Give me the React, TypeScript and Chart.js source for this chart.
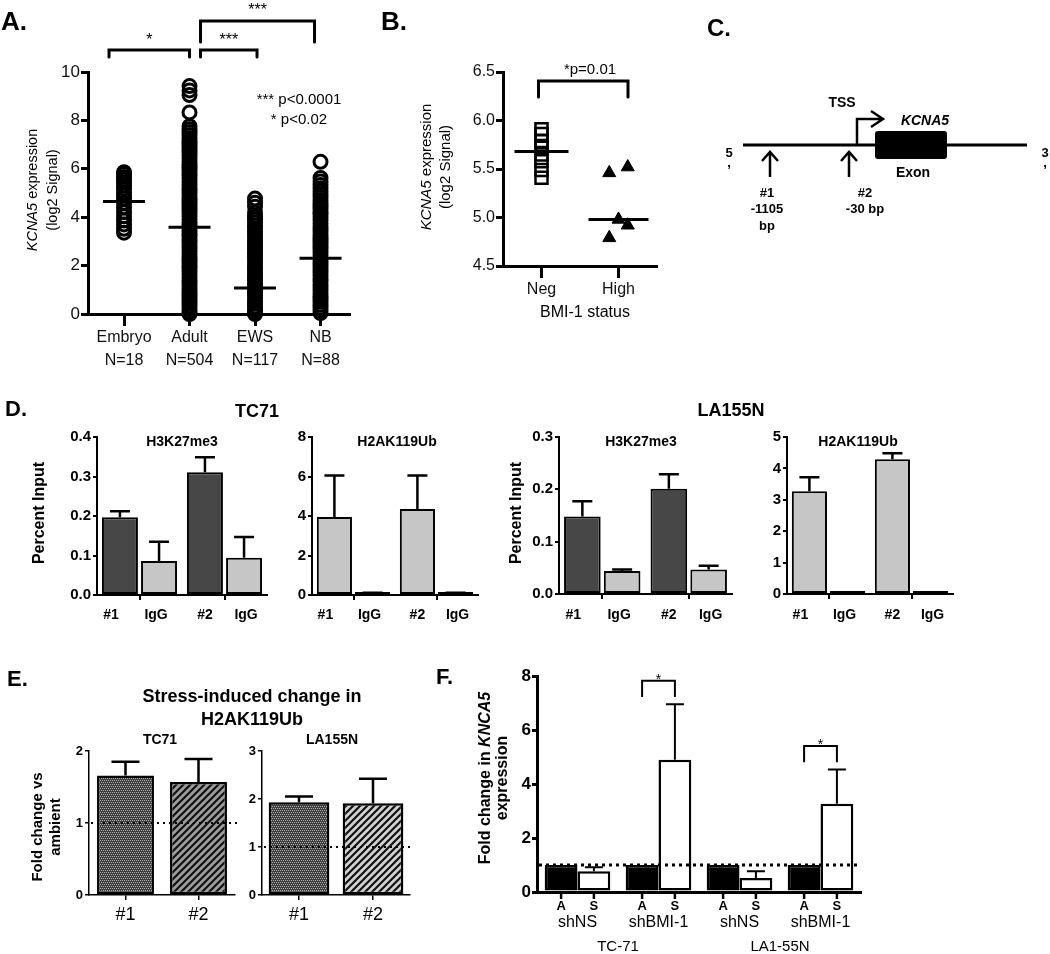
import React, { useEffect, useRef } from 'react';
import { Chart, registerables } from 'chart.js';

Chart.register(...registerables);

const FAMILY = 'Arial, "Liberation Sans", Helvetica, sans-serif';
Chart.defaults.font.family = FAMILY;
Chart.defaults.color = '#000';

// ================= DATA =================
// Panel A
const A_CATEGORIES = ['Embryo', 'Adult', 'EWS', 'NB'];
const A_COUNTS = ['N=18', 'N=504', 'N=117', 'N=88'];
const A_Y_TICKS = [0, 2, 4, 6, 8, 10];
const A_EMBRYO = [5.86, 5.78, 5.66, 5.55, 5.44, 5.31, 5.18, 5.02, 4.9, 4.77, 4.6, 4.41, 4.22, 4.04, 3.86, 3.7, 3.52, 3.36];
const A_ADULT = [9.42, 9.24, 9.05, 8.33, 7.76, 7.63, 7.52, 7.4, 7.27, 7.15, 7.04, 6.92, 6.79, 6.67, 6.56, 6.44, 6.31, 6.19, 6.08, 5.96, 5.83, 5.71, 5.6, 5.48, 5.35, 5.23, 5.12, 5.0, 4.87, 4.75, 4.64, 4.52, 4.39, 4.27, 4.16, 4.04, 3.91, 3.79, 3.68, 3.56, 3.43, 3.31, 3.2, 3.08, 2.95, 2.83, 2.72, 2.6, 2.47, 2.35, 2.24, 2.12, 1.99, 1.87, 1.76, 1.64, 1.51, 1.39, 1.28, 1.16, 1.03, 0.91, 0.8, 0.68, 0.55, 0.43, 0.32, 0.2, 0.08, 0.0];
const A_EWS = [4.77, 4.6, 4.43, 4.18, 4.02, 3.9, 3.78, 3.66, 3.53, 3.41, 3.3, 3.18, 3.05, 2.93, 2.82, 2.7, 2.57, 2.45, 2.34, 2.22, 2.09, 1.97, 1.86, 1.74, 1.61, 1.49, 1.38, 1.26, 1.13, 1.01, 0.9, 0.78, 0.65, 0.53, 0.42, 0.3, 0.17, 0.05, 0.0];
const A_NB = [6.29, 5.62, 5.48, 5.33, 5.2, 5.07, 4.95, 4.83, 4.7, 4.58, 4.47, 4.35, 4.22, 4.1, 3.99, 3.87, 3.74, 3.62, 3.51, 3.39, 3.26, 3.14, 3.03, 2.91, 2.78, 2.66, 2.55, 2.43, 2.3, 2.18, 2.07, 1.95, 1.82, 1.7, 1.59, 1.47, 1.34, 1.22, 1.11, 0.99, 0.86, 0.74, 0.63, 0.51, 0.38, 0.26, 0.15, 0.04];
const A_MEANS = [4.65, 3.58, 1.07, 2.3];
const A_SIG_PAIRS = [[0, 1], [1, 2], [1, 3]];
const A_SIG_MARKS = ['*', '***', '***'];
const A_NOTES = ['*** p<0.0001', '* p<0.02'];

// Panel B
const B_CATEGORIES = ['Neg', 'High'];
const B_Y_TICKS = [4.5, 5, 5.5, 6, 6.5];
const B_NEG = [5.91, 5.86, 5.79, 5.72, 5.65, 5.58, 5.49, 5.41];
const B_HIGH = [5.46, 5.52, 4.98, 4.92, 4.79];
const B_HIGH_JITTER = [-0.12, 0.12, 0, 0.12, -0.12];
const B_CENTRAL = [5.68, 4.98];
const B_SIG = '*p=0.01';

// Panel D
const D_SITES = ['#1', '#2'];
const D_BAR_LABELS = ['#1', 'IgG', '#2', 'IgG'];
const D_TC71_K27_TICKS = [0, 0.1, 0.2, 0.3, 0.4];
const D_TC71_K27_CHIP = [0.197, 0.311];
const D_TC71_K27_CHIP_ERR = [0.015, 0.038];
const D_TC71_K27_IGG = [0.086, 0.094];
const D_TC71_K27_IGG_ERR = [0.049, 0.053];
const D_TC71_UB_TICKS = [0, 2, 4, 6, 8];
const D_TC71_UB_CHIP = [3.95, 4.35];
const D_TC71_UB_CHIP_ERR = [2.1, 1.7];
const D_TC71_UB_IGG = [0.1, 0.1];
const D_TC71_UB_IGG_ERR = [0.02, 0.02];
const D_LA_K27_TICKS = [0, 0.1, 0.2, 0.3];
const D_LA_K27_CHIP = [0.148, 0.201];
const D_LA_K27_CHIP_ERR = [0.029, 0.028];
const D_LA_K27_IGG = [0.044, 0.047];
const D_LA_K27_IGG_ERR = [0.003, 0.007];
const D_LA_UB_TICKS = [0, 1, 2, 3, 4, 5];
const D_LA_UB_CHIP = [3.27, 4.29];
const D_LA_UB_CHIP_ERR = [0.45, 0.19];
const D_LA_UB_IGG = [0.03, 0.03];
const D_LA_UB_IGG_ERR = [0, 0];

// Panel E
const E_SITES = ['#1', '#2'];
const E_TC71_TICKS = [0, 1, 2];
const E_TC71 = [1.66, 1.57];
const E_TC71_ERR = [0.19, 0.32];
const E_LA_TICKS = [0, 1, 2, 3];
const E_LA = [1.93, 1.91];
const E_LA_ERR = [0.12, 0.51];
const E_REF = 1;

// Panel F
const F_GROUPS = ['shNS', 'shBMI-1', 'shNS', 'shBMI-1'];
const F_CELL_LINES = ['TC-71', 'LA1-55N'];
const F_CONDITIONS = ['A', 'S'];
const F_TICKS = [0, 2, 4, 6, 8];
const F_AMBIENT = [1, 1, 1, 1];
const F_STRESS = [0.77, 4.9, 0.52, 3.27];
const F_STRESS_ERR = [0.15, 2.05, 0.25, 1.27];
const F_SIGNIFICANT = [1, 3];
const F_REF = 1;

// ================= STYLE / LAYOUT =================
const DARK = '#474747';
const LIGHT = '#c6c6c6';

type Box = { x: number; y: number; w: number; h: number };
type Area = { l: number; t: number; r: number; b: number };
type Part = [string, string];
type TItem = { x: number; y: number; parts: Part[]; rot?: number; align?: 'left' | 'center' | 'right' };

const font = (size: number, style = '') => `${style} ${size}px ${FAMILY}`.trim();
const T = (x: number, y: number, s: string, fnt: string, align: 'left' | 'center' | 'right' = 'center'): TItem => ({ x, y, parts: [[s, fnt]], align });
const V = (x: number, y: number, parts: Part[]): TItem => ({ x, y, parts, rot: -Math.PI / 2, align: 'center' });

function drawItem(ctx: CanvasRenderingContext2D, it: TItem, box: Box) {
  ctx.save();
  ctx.translate(it.x - box.x, it.y - box.y);
  if (it.rot) ctx.rotate(it.rot);
  ctx.textBaseline = 'middle';
  ctx.textAlign = 'left';
  ctx.fillStyle = '#000';
  let w = 0;
  it.parts.forEach(([s, f]) => { ctx.font = f; w += ctx.measureText(s).width; });
  let x = it.align === 'left' ? 0 : it.align === 'right' ? -w : -w / 2;
  it.parts.forEach(([s, f]) => { ctx.font = f; ctx.fillText(s, x, 0); x += ctx.measureText(s).width; });
  ctx.restore();
}

const textPlugin = (items: TItem[], box: Box) => ({
  id: 'pageText',
  afterDraw(chart: any) { items.forEach((it) => drawItem(chart.ctx, it, box)); },
});

function drawStars(ctx: CanvasRenderingContext2D, s: string, x: number, yCenter: number, size: number) {
  ctx.save();
  ctx.font = font(size);
  ctx.textAlign = 'center';
  ctx.textBaseline = 'alphabetic';
  ctx.fillStyle = '#000';
  ctx.fillText(s, x, yCenter + size * 0.58);
  ctx.restore();
}

function frame(box: Box, area: Area) {
  return {
    padding: { top: area.t - box.y, right: box.x + box.w - area.r, left: 0, bottom: 0 },
    yw: area.l - box.x,
    xh: box.y + box.h - area.b,
  };
}

function baseOptions(fr: any) {
  return {
    responsive: false,
    maintainAspectRatio: false,
    animation: false,
    events: [],
    layout: { padding: fr.padding },
    plugins: { legend: { display: false }, tooltip: { enabled: false }, title: { display: false } },
  };
}

function yAxis(ticks: number[], width: number, o: any) {
  return {
    type: 'linear',
    position: 'left',
    min: ticks[0],
    max: ticks[ticks.length - 1],
    afterBuildTicks: (s: any) => { s.ticks = ticks.map((v) => ({ value: v })); },
    afterFit: (s: any) => { s.width = width; },
    ticks: {
      font: { size: o.size, weight: o.weight || 'normal' },
      color: o.color || '#000',
      padding: o.pad,
      callback: (v: any) => (o.digits !== undefined ? Number(v).toFixed(o.digits) : String(v)),
    },
    grid: { display: true, drawOnChartArea: false, drawTicks: true, tickLength: o.tl, tickWidth: o.tw, tickColor: '#000', color: '#000', lineWidth: o.tw },
    border: { display: true, color: '#000', width: o.bw },
  };
}

function xCat(height: number, o: any) {
  const ticks = o.labels
    ? { font: { size: o.labels.size, weight: o.labels.weight || 'normal' }, color: '#000', padding: o.labels.pad, autoSkip: false, maxRotation: 0 }
    : { callback: () => '', autoSkip: false, maxRotation: 0, padding: 0 };
  return {
    type: 'category',
    position: 'bottom',
    offset: true,
    afterFit: (s: any) => { s.height = height; },
    ticks,
    grid: { display: o.tl > 0, offset: false, drawOnChartArea: false, drawTicks: true, tickLength: o.tl, tickWidth: o.tw, tickColor: '#000', color: '#000', lineWidth: o.tw },
    border: { display: true, color: '#000', width: o.bw },
  };
}

function errPlugin(errs: (number[] | null)[], cap: number, lw: number) {
  return {
    id: 'errbars',
    afterDatasetsDraw(chart: any) {
      const ctx = chart.ctx;
      const ys = chart.scales.y;
      ctx.save();
      ctx.strokeStyle = '#000';
      ctx.lineWidth = lw;
      errs.forEach((e, di) => {
        if (!e) return;
        const meta = chart.getDatasetMeta(di);
        const vals = chart.data.datasets[di].data;
        meta.data.forEach((el: any, i: number) => {
          if (!e[i]) return;
          const top = ys.getPixelForValue(vals[i] + e[i]);
          ctx.beginPath();
          ctx.moveTo(el.x, el.y);
          ctx.lineTo(el.x, top);
          ctx.moveTo(el.x - cap / 2, top);
          ctx.lineTo(el.x + cap / 2, top);
          ctx.stroke();
        });
      });
      ctx.restore();
    },
  };
}

function refLinePlugin(value: number, lw: number, dash: number[], extra: number) {
  return {
    id: 'refline',
    afterDatasetsDraw(chart: any) {
      const ctx = chart.ctx;
      const ca = chart.chartArea;
      const y = chart.scales.y.getPixelForValue(value);
      ctx.save();
      ctx.strokeStyle = '#000';
      ctx.lineWidth = lw;
      ctx.setLineDash(dash);
      ctx.beginPath();
      ctx.moveTo(ca.left + 2, y);
      ctx.lineTo(ca.right + extra, y);
      ctx.stroke();
      ctx.restore();
    },
  };
}

// ================= PANEL A =================
const BOX_A: Box = { x: 0, y: 0, w: 380, h: 380 };
const AREA_A: Area = { l: 88, t: 72, r: 350, b: 314 };
const A_BRACKET_LAYOUT = [
  { dx1: -15, dx2: 0, top: 50, bottom: 57, starY: 36 },
  { dx1: 11, dx2: 2, top: 50, bottom: 57, starY: 36 },
  { dx1: 11, dx2: -6, top: 21, bottom: 42, starY: 6 },
];
const TEXT_A: TItem[] = [
  T(1, 23, 'A.', font(26, 'bold'), 'left'),
  T(299, 100, A_NOTES[0], font(15)),
  T(299, 120, A_NOTES[1], font(15)),
  V(33, 190, [['KCNA5', font(14.5, 'italic')], [' expression', font(14.5)]]),
  V(53, 190, [['(log2 Signal)', font(14.5)]]),
];

function buildA() {
  const fr = frame(BOX_A, AREA_A);
  const cols = [A_EMBRYO, A_ADULT, A_EWS, A_NB];
  const brackets = {
    id: 'bracketsA',
    afterDraw(chart: any) {
      const ctx = chart.ctx;
      const xs = chart.scales.x;
      ctx.save();
      ctx.strokeStyle = '#000';
      ctx.lineWidth = 3;
      ctx.lineCap = 'round';
      A_SIG_PAIRS.forEach(([a, b], k) => {
        const L = A_BRACKET_LAYOUT[k];
        const x1 = xs.getPixelForValue(a) + L.dx1;
        const x2 = xs.getPixelForValue(b) + L.dx2;
        const yt = L.top - BOX_A.y;
        const yb = L.bottom - BOX_A.y;
        ctx.beginPath();
        ctx.moveTo(x1, yb);
        ctx.lineTo(x1, yt);
        ctx.lineTo(x2, yt);
        ctx.lineTo(x2, yb);
        ctx.stroke();
        drawStars(ctx, A_SIG_MARKS[k], (x1 + x2) / 2, L.starY - BOX_A.y, 16);
      });
      ctx.restore();
    },
  };
  return {
    type: 'scatter',
    data: {
      datasets: [
        ...cols.map((vals, i) => ({
          data: vals.map((v) => ({ x: i, y: v })),
          pointStyle: 'circle',
          pointRadius: 6.5,
          pointBorderWidth: 3,
          pointBorderColor: '#000',
          pointBackgroundColor: 'rgba(255,255,255,0)',
          clip: false,
        })),
        {
          data: A_MEANS.map((v, i) => ({ x: i, y: v })),
          pointStyle: 'line',
          pointRadius: 21,
          pointBorderWidth: 3,
          pointBorderColor: '#000',
          clip: false,
        },
      ],
    },
    options: {
      ...baseOptions(fr),
      scales: {
        x: {
          type: 'linear',
          position: 'bottom',
          min: -0.55,
          max: 3.45,
          afterBuildTicks: (s: any) => { s.ticks = A_CATEGORIES.map((_, i) => ({ value: i })); },
          afterFit: (s: any) => { s.height = fr.xh; },
          ticks: { font: { size: 16, lineHeight: 1.45 }, color: '#111', padding: 0, maxRotation: 0, callback: (v: any) => [A_CATEGORIES[v], A_COUNTS[v]] },
          grid: { display: true, drawOnChartArea: false, drawTicks: true, tickLength: 12, tickWidth: 3, tickColor: '#000', color: '#000' },
          border: { display: true, color: '#000', width: 3 },
        },
        y: yAxis(A_Y_TICKS, fr.yw, { size: 17, tl: 7, tw: 3, bw: 3, pad: 1, color: '#111' }),
      },
    },
    plugins: [brackets, textPlugin(TEXT_A, BOX_A)],
  };
}

// ================= PANEL B =================
const BOX_B: Box = { x: 380, y: 0, w: 310, h: 330 };
const AREA_B: Area = { l: 503, t: 72, r: 668, b: 266 };
const TEXT_B: TItem[] = [
  T(381, 23, 'B.', font(26, 'bold'), 'left'),
  V(427, 167, [['KCNA5', font(15, 'italic')], [' expression', font(15)]]),
  V(446, 167, [['(log2 Signal)', font(15)]]),
  T(585, 313, 'BMI-1 status', font(16)),
  T(590, 70, B_SIG, font(15)),
];

function buildB() {
  const fr = frame(BOX_B, AREA_B);
  const bracket = {
    id: 'bracketB',
    afterDraw(chart: any) {
      const ctx = chart.ctx;
      const xs = chart.scales.x;
      const x1 = xs.getPixelForValue(0) - 3;
      const x2 = xs.getPixelForValue(1) + 9.5;
      ctx.save();
      ctx.strokeStyle = '#000';
      ctx.lineWidth = 3;
      ctx.lineCap = 'round';
      ctx.beginPath();
      ctx.moveTo(x1, 97 - BOX_B.y);
      ctx.lineTo(x1, 81 - BOX_B.y);
      ctx.lineTo(x2, 81 - BOX_B.y);
      ctx.lineTo(x2, 97 - BOX_B.y);
      ctx.stroke();
      ctx.restore();
    },
  };
  return {
    type: 'scatter',
    data: {
      datasets: [
        {
          data: B_NEG.map((v) => ({ x: 0, y: v })),
          pointStyle: 'rect',
          pointRadius: 8.5,
          pointBorderWidth: 2.5,
          pointBorderColor: '#000',
          pointBackgroundColor: 'rgba(255,255,255,0)',
          clip: false,
        },
        {
          data: B_HIGH.map((v, i) => ({ x: 1 + B_HIGH_JITTER[i], y: v })),
          pointStyle: 'triangle',
          pointRadius: 7.5,
          pointBorderWidth: 1,
          pointBorderColor: '#000',
          pointBackgroundColor: '#000',
          clip: false,
        },
        {
          data: B_CENTRAL.map((v, i) => ({ x: i, y: v })),
          pointStyle: 'line',
          pointRadius: [27, 30],
          pointBorderWidth: 3,
          pointBorderColor: '#000',
          clip: false,
        },
      ],
    },
    options: {
      ...baseOptions(fr),
      scales: {
        x: {
          type: 'linear',
          position: 'bottom',
          min: -0.5,
          max: 1.5,
          afterBuildTicks: (s: any) => { s.ticks = B_CATEGORIES.map((_, i) => ({ value: i })); },
          afterFit: (s: any) => { s.height = fr.xh; },
          ticks: { font: { size: 16 }, color: '#111', padding: 2, maxRotation: 0, callback: (v: any) => B_CATEGORIES[v] },
          grid: { display: true, drawOnChartArea: false, drawTicks: true, tickLength: 12, tickWidth: 3, tickColor: '#000', color: '#000' },
          border: { display: true, color: '#000', width: 3 },
        },
        y: yAxis(B_Y_TICKS, fr.yw, { size: 16, tl: 7, tw: 3, bw: 3, pad: 1, digits: 1, color: '#111' }),
      },
    },
    plugins: [bracket, textPlugin(TEXT_B, BOX_B)],
  };
}

// ================= PANEL C =================
const BOX_C: Box = { x: 690, y: 0, w: 360, h: 245 };
const TEXT_C: TItem[] = [
  T(707, 29, 'C.', font(24, 'bold'), 'left'),
  T(842, 103, 'TSS', font(14, 'bold')),
  T(925, 121, 'KCNA5', font(14, 'italic bold')),
  T(913, 173, 'Exon', font(14, 'bold')),
  T(767, 193, '#1', font(13, 'bold')),
  T(767, 209, '-1105', font(13, 'bold')),
  T(767, 226, 'bp', font(13, 'bold')),
  T(865, 193, '#2', font(13, 'bold')),
  T(865, 209, '-30 bp', font(13, 'bold')),
  T(729, 153, '5', font(13, 'bold')),
  T(729, 163, ',', font(13, 'bold')),
  T(1045, 153, '3', font(13, 'bold')),
  T(1045, 163, ',', font(13, 'bold')),
];

function buildC() {
  const fr = frame(BOX_C, { l: BOX_C.x, t: BOX_C.y, r: BOX_C.x + BOX_C.w, b: BOX_C.y + BOX_C.h });
  const gene = {
    id: 'gene',
    afterDraw(chart: any) {
      const ctx = chart.ctx;
      const ox = BOX_C.x;
      const oy = BOX_C.y;
      ctx.save();
      ctx.strokeStyle = '#000';
      ctx.fillStyle = '#000';
      ctx.lineWidth = 3;
      ctx.beginPath();
      ctx.moveTo(743 - ox, 145 - oy);
      ctx.lineTo(1027 - ox, 145 - oy);
      ctx.stroke();
      ctx.beginPath();
      if ((ctx as any).roundRect) (ctx as any).roundRect(875 - ox, 131 - oy, 72, 28, 3);
      else ctx.rect(875 - ox, 131 - oy, 72, 28);
      ctx.fill();
      ctx.lineWidth = 2.5;
      ctx.beginPath();
      ctx.moveTo(857 - ox, 145 - oy);
      ctx.lineTo(857 - ox, 119 - oy);
      ctx.lineTo(882 - ox, 119 - oy);
      ctx.moveTo(871 - ox, 111 - oy);
      ctx.lineTo(883 - ox, 119 - oy);
      ctx.lineTo(871 - ox, 127 - oy);
      ctx.stroke();
      [770, 849].forEach((x) => {
        ctx.beginPath();
        ctx.moveTo(x - ox, 177 - oy);
        ctx.lineTo(x - ox, 152 - oy);
        ctx.moveTo(x - 8 - ox, 161 - oy);
        ctx.lineTo(x - ox, 152 - oy);
        ctx.lineTo(x + 8 - ox, 161 - oy);
        ctx.stroke();
      });
      ctx.restore();
    },
  };
  return {
    type: 'scatter',
    data: { datasets: [] },
    options: { ...baseOptions(fr), scales: { x: { display: false }, y: { display: false } } },
    plugins: [gene, textPlugin(TEXT_C, BOX_C)],
  };
}

// ================= PANEL D =================
const D_LABEL_DX = [-9, -3, 0, 2];
const D_LABEL_Y = 615;

function dLabelPlugin(box: Box) {
  return {
    id: 'dlabels',
    afterDatasetsDraw(chart: any) {
      const ctx = chart.ctx;
      const order = [[0, 0], [1, 0], [0, 1], [1, 1]];
      ctx.save();
      ctx.font = font(14, 'bold');
      ctx.textAlign = 'center';
      ctx.textBaseline = 'middle';
      ctx.fillStyle = '#000';
      order.forEach(([d, i], k) => {
        const el = chart.getDatasetMeta(d).data[i];
        ctx.fillText(D_BAR_LABELS[k], el.x + D_LABEL_DX[k], D_LABEL_Y - box.y);
      });
      ctx.restore();
    },
  };
}

function buildD(s: any) {
  const fr = frame(s.box, s.area);
  const bar = (data: number[], color: string) => ({
    data,
    backgroundColor: color,
    borderColor: '#000',
    borderWidth: 2,
    borderSkipped: false,
    minBarLength: 3,
    barPercentage: 0.92,
    categoryPercentage: 0.92,
  });
  return {
    type: 'bar',
    data: { labels: D_SITES, datasets: [bar(s.chip, s.chipColor), bar(s.igg, LIGHT)] },
    options: {
      ...baseOptions(fr),
      scales: {
        x: xCat(fr.xh, { tl: 5, tw: 2, bw: 2 }),
        y: yAxis(s.ticks, fr.yw, { size: 15, weight: 'bold', tl: 4, tw: 2, bw: 2, pad: 2, digits: s.digits }),
      },
    },
    plugins: [errPlugin([s.chipErr, s.iggErr], 20, 2.5), dLabelPlugin(s.box), textPlugin(s.texts, s.box)],
  };
}

const D1 = {
  box: { x: 0, y: 395, w: 285, h: 235 },
  area: { l: 97, t: 437, r: 267, b: 595 },
  ticks: D_TC71_K27_TICKS, digits: 1,
  chip: D_TC71_K27_CHIP, chipErr: D_TC71_K27_CHIP_ERR, igg: D_TC71_K27_IGG, iggErr: D_TC71_K27_IGG_ERR,
  chipColor: DARK,
  texts: [
    T(5, 410, 'D.', font(22, 'bold'), 'left'),
    T(257, 412, 'TC71', font(18, 'bold')),
    T(182, 442, 'H3K27me3', font(14, 'bold')),
    V(40, 513, [['Percent Input', font(16, 'bold')]]),
  ],
};
const D2 = {
  box: { x: 285, y: 420, w: 210, h: 210 },
  area: { l: 312, t: 437, r: 478, b: 595 },
  ticks: D_TC71_UB_TICKS,
  chip: D_TC71_UB_CHIP, chipErr: D_TC71_UB_CHIP_ERR, igg: D_TC71_UB_IGG, iggErr: D_TC71_UB_IGG_ERR,
  chipColor: LIGHT,
  texts: [T(397, 442, 'H2AK119Ub', font(14, 'bold'))],
};
const D3 = {
  box: { x: 495, y: 395, w: 275, h: 235 },
  area: { l: 559, t: 437, r: 732, b: 594 },
  ticks: D_LA_K27_TICKS, digits: 1,
  chip: D_LA_K27_CHIP, chipErr: D_LA_K27_CHIP_ERR, igg: D_LA_K27_IGG, iggErr: D_LA_K27_IGG_ERR,
  chipColor: DARK,
  texts: [
    T(731, 411, 'LA155N', font(18, 'bold')),
    T(641, 442, 'H3K27me3', font(14, 'bold')),
    V(517, 513, [['Percent Input', font(16, 'bold')]]),
  ],
};
const D4 = {
  box: { x: 740, y: 420, w: 260, h: 210 },
  area: { l: 787, t: 437, r: 953, b: 594 },
  ticks: D_LA_UB_TICKS,
  chip: D_LA_UB_CHIP, chipErr: D_LA_UB_CHIP_ERR, igg: D_LA_UB_IGG, iggErr: D_LA_UB_IGG_ERR,
  chipColor: LIGHT,
  texts: [T(858, 442, 'H2AK119Ub', font(14, 'bold'))],
};

// ================= PANEL E =================
function dotPattern(ctx: CanvasRenderingContext2D) {
  const c = document.createElement('canvas');
  c.width = 4;
  c.height = 4;
  const g = c.getContext('2d')!;
  g.fillStyle = '#3d3d3d';
  g.fillRect(0, 0, 4, 4);
  g.fillStyle = '#b0b0b0';
  [[0, 0], [2, 0], [1, 2], [3, 2]].forEach(([x, y]) => g.fillRect(x, y, 1, 1));
  return ctx.createPattern(c, 'repeat');
}

function stripePattern(ctx: CanvasRenderingContext2D, bg: string) {
  const s = 7;
  const c = document.createElement('canvas');
  c.width = s;
  c.height = s;
  const g = c.getContext('2d')!;
  g.fillStyle = bg;
  g.fillRect(0, 0, s, s);
  g.strokeStyle = '#111';
  g.lineWidth = 2.2;
  g.beginPath();
  g.moveTo(0, s);
  g.lineTo(s, 0);
  g.moveTo(-1, 1);
  g.lineTo(1, -1);
  g.moveTo(s - 1, s + 1);
  g.lineTo(s + 1, s - 1);
  g.stroke();
  return ctx.createPattern(c, 'repeat');
}

function buildE(s: any) {
  return (ctx: CanvasRenderingContext2D) => {
    const fr = frame(s.box, s.area);
    return {
      type: 'bar',
      data: {
        labels: E_SITES,
        datasets: [
          {
            data: s.vals,
            backgroundColor: [dotPattern(ctx), stripePattern(ctx, s.stripeBg)],
            borderColor: '#000',
            borderWidth: 2.5,
            borderSkipped: false,
            barPercentage: s.barPct,
            categoryPercentage: 1,
          },
        ],
      },
      options: {
        ...baseOptions(fr),
        scales: {
          x: xCat(fr.xh, { tl: 5, tw: 1.5, bw: 1.5, labels: { size: 18, pad: 4 } }),
          y: yAxis(s.ticks, fr.yw, { size: 13, weight: 'bold', tl: 4, tw: 1.5, bw: 1.5, pad: 2 }),
        },
      },
      plugins: [errPlugin([s.errs], 28, 2.5), refLinePlugin(E_REF, 2, [2, 4], 2), textPlugin(s.texts, s.box)],
    };
  };
}

const E1 = {
  box: { x: 0, y: 660, w: 420, h: 290 },
  area: { l: 89, t: 751, r: 235, b: 895 },
  ticks: E_TC71_TICKS, vals: E_TC71, errs: E_TC71_ERR, stripeBg: '#9c9c9c', barPct: 0.78,
  texts: [
    T(7, 680, 'E.', font(22, 'bold'), 'left'),
    T(252, 697, 'Stress-induced change in', font(18, 'bold')),
    T(252, 720, 'H2AK119Ub', font(18, 'bold')),
    T(160, 740, 'TC71', font(14, 'bold')),
    V(38, 827, [['Fold change vs', font(15, 'bold')]]),
    V(56, 827, [['ambient', font(15, 'bold')]]),
  ],
};
const E2 = {
  box: { x: 235, y: 728, w: 195, h: 222 },
  area: { l: 262, t: 751, r: 410, b: 895 },
  ticks: E_LA_TICKS, vals: E_LA, errs: E_LA_ERR, stripeBg: '#d2d2d2', barPct: 0.82,
  texts: [T(332, 740, 'LA155N', font(14, 'bold'))],
};

// ================= PANEL F =================
const BOX_F: Box = { x: 430, y: 655, w: 440, h: 299 };
const AREA_F: Area = { l: 537, t: 676, r: 861, b: 892 };
const TEXT_F: TItem[] = [
  T(436, 678, 'F.', font(22, 'bold'), 'left'),
  V(486, 778, [['Fold change in ', font(16, 'bold')], ['KNCA5', font(16, 'italic bold')]]),
  V(503, 778, [['expression', font(16, 'bold')]]),
];

function buildF() {
  const fr = frame(BOX_F, AREA_F);
  const extras = {
    id: 'fExtras',
    afterDatasetsDraw(chart: any) {
      const ctx = chart.ctx;
      const ys = chart.scales.y;
      const ca = chart.chartArea;
      const mA = chart.getDatasetMeta(0).data;
      const mS = chart.getDatasetMeta(1).data;
      ctx.save();
      ctx.strokeStyle = '#000';
      ctx.fillStyle = '#000';
      ctx.textAlign = 'center';
      ctx.textBaseline = 'middle';
      ctx.lineWidth = 2.5;
      F_GROUPS.forEach((g, i) => {
        [mA[i].x, mS[i].x].forEach((x, k) => {
          ctx.beginPath();
          ctx.moveTo(x, ca.bottom);
          ctx.lineTo(x, ca.bottom + 7);
          ctx.stroke();
          ctx.font = font(13, 'bold');
          ctx.fillText(F_CONDITIONS[k], x, 906 - BOX_F.y);
        });
        ctx.font = font(16);
        ctx.fillText(g, (mA[i].x + mS[i].x) / 2, 923 - BOX_F.y);
      });
      F_CELL_LINES.forEach((c, j) => {
        ctx.font = font(15);
        ctx.fillText(c, (mA[2 * j].x + mS[2 * j + 1].x) / 2, 947 - BOX_F.y);
      });
      ctx.lineWidth = 2;
      F_SIGNIFICANT.forEach((i) => {
        const errTop = F_STRESS[i] + F_STRESS_ERR[i];
        const yb = ys.getPixelForValue(errTop + 0.27);
        const yt = ys.getPixelForValue(errTop + 0.87);
        ctx.beginPath();
        ctx.moveTo(mA[i].x, yb);
        ctx.lineTo(mA[i].x, yt);
        ctx.lineTo(mS[i].x, yt);
        ctx.lineTo(mS[i].x, yb);
        ctx.stroke();
        drawStars(ctx, '*', (mA[i].x + mS[i].x) / 2, ys.getPixelForValue(errTop + 1.07), 14);
      });
      ctx.restore();
    },
  };
  const bar = (data: number[], color: string) => ({
    data,
    backgroundColor: color,
    borderColor: '#000',
    borderWidth: 2.5,
    borderSkipped: false,
    barPercentage: 1,
    categoryPercentage: 0.81,
  });
  return {
    type: 'bar',
    data: { labels: F_GROUPS, datasets: [bar(F_AMBIENT, '#000'), bar(F_STRESS, '#fff')] },
    options: {
      ...baseOptions(fr),
      scales: {
        x: xCat(fr.xh, { tl: 0, tw: 2, bw: 3 }),
        y: yAxis(F_TICKS, fr.yw, { size: 17, weight: 'bold', tl: 5, tw: 3, bw: 3, pad: 1 }),
      },
    },
    plugins: [errPlugin([null, F_STRESS_ERR], 18, 2), refLinePlugin(F_REF, 3, [3, 4], -2), extras, textPlugin(TEXT_F, BOX_F)],
  };
}

// ================= COMPONENTS =================
function ChartCanvas({ box, build }: { box: Box; build: (ctx: CanvasRenderingContext2D) => any }) {
  const ref = useRef<HTMLCanvasElement | null>(null);
  useEffect(() => {
    const canvas = ref.current;
    if (!canvas) return;
    const chart = new Chart(canvas, build(canvas.getContext('2d')!));
    return () => chart.destroy();
  }, []);
  return (
    <canvas
      ref={ref}
      width={box.w}
      height={box.h}
      style={{ position: 'absolute', left: box.x, top: box.y, width: box.w + 'px', height: box.h + 'px' }}
    />
  );
}

export default function App() {
  return (
    <div style={{ position: 'absolute', left: 0, top: 0, width: 1050, height: 954, background: '#fff', overflow: 'hidden' }}>
      <ChartCanvas box={BOX_A} build={buildA} />
      <ChartCanvas box={BOX_B} build={buildB} />
      <ChartCanvas box={BOX_C} build={buildC} />
      <ChartCanvas box={D1.box} build={() => buildD(D1)} />
      <ChartCanvas box={D2.box} build={() => buildD(D2)} />
      <ChartCanvas box={D3.box} build={() => buildD(D3)} />
      <ChartCanvas box={D4.box} build={() => buildD(D4)} />
      <ChartCanvas box={E1.box} build={buildE(E1)} />
      <ChartCanvas box={E2.box} build={buildE(E2)} />
      <ChartCanvas box={BOX_F} build={buildF} />
    </div>
  );
}
